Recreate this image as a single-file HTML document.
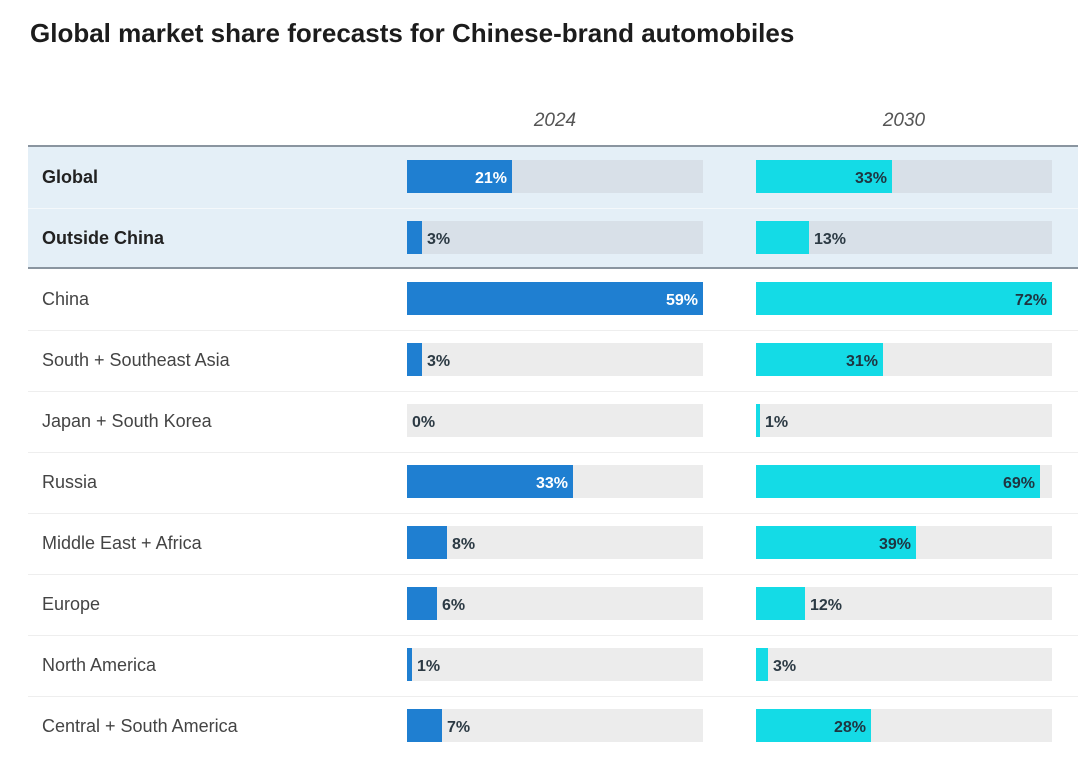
<!DOCTYPE html><html><head><meta charset="utf-8"><style>
body{margin:0;width:1080px;height:770px;background:#fff;font-family:"Liberation Sans",sans-serif;position:relative;overflow:hidden}
div{position:absolute}
.t{left:30px;top:18px;font-size:26px;font-weight:bold;color:#1c1c1c}
.h{top:110px;font-size:19px;font-style:italic;color:#555;width:296px;text-align:center}
.lab{left:42px;font-size:18px;color:#444;line-height:61px}
.b{font-weight:bold;color:#222}
.tr{height:33px;background:#ececec}
.bar{height:33px}
.v{font-size:16px;font-weight:bold;line-height:33px;color:#2c3a44;margin-top:2px}
.sep{left:28px;width:1050px;height:1px;background:#eee}
</style></head><body>
<div class="t">Global market share forecasts for Chinese-brand automobiles</div>
<div class="h" style="left:407px">2024</div>
<div class="h" style="left:756px">2030</div>
<div style="left:28px;top:146px;width:1050px;height:122px;background:#e4eff7"></div>
<div style="left:28px;top:145px;width:1050px;height:2px;background:#8a95a0"></div>
<div style="left:28px;top:267px;width:1050px;height:2px;background:#8a95a0"></div>
<div id="c"></div>
<script>
var rows=[["Global",21,33,1],["Outside China",3,13,1],["China",59,72],["South + Southeast Asia",3,31],["Japan + South Korea",0,1],["Russia",33,69],["Middle East + Africa",8,39],["Europe",6,12],["North America",1,3],["Central + South America",7,28]];
var h="";
rows.forEach(function(r,i){
 var top=147+i*61;
 if(i>0&&i!=2)h+='<div class="sep" style="top:'+top+'px;background:'+(i<2?'#f4f8fb':'#eee')+'"></div>';
 h+='<div class="lab'+(r[3]?' b':'')+'" style="top:'+top+'px">'+r[0]+'</div>';
 var by=top+13;
 [[407,r[1],59,'#1f7fd1','#fff'],[756,r[2],72,'#14dbe6','#1f3440']].forEach(function(c){
  var w=Math.round(c[1]/c[2]*296);
  h+='<div class="tr" style="left:'+c[0]+'px;top:'+by+'px;width:296px;background:'+(r[3]?'#d8e0e8':'#ececec')+'"></div>';
  h+='<div class="bar" style="left:'+c[0]+'px;top:'+by+'px;width:'+w+'px;background:'+c[3]+'"></div>';
  if(w>60)h+='<div class="v" style="left:'+c[0]+'px;top:'+by+'px;width:'+(w-5)+'px;text-align:right;color:'+c[4]+'">'+c[1]+'%</div>';
  else h+='<div class="v" style="left:'+(c[0]+w+5)+'px;top:'+by+'px">'+c[1]+'%</div>';
 });
});
document.getElementById('c').outerHTML=h;
</script>
</body></html>
